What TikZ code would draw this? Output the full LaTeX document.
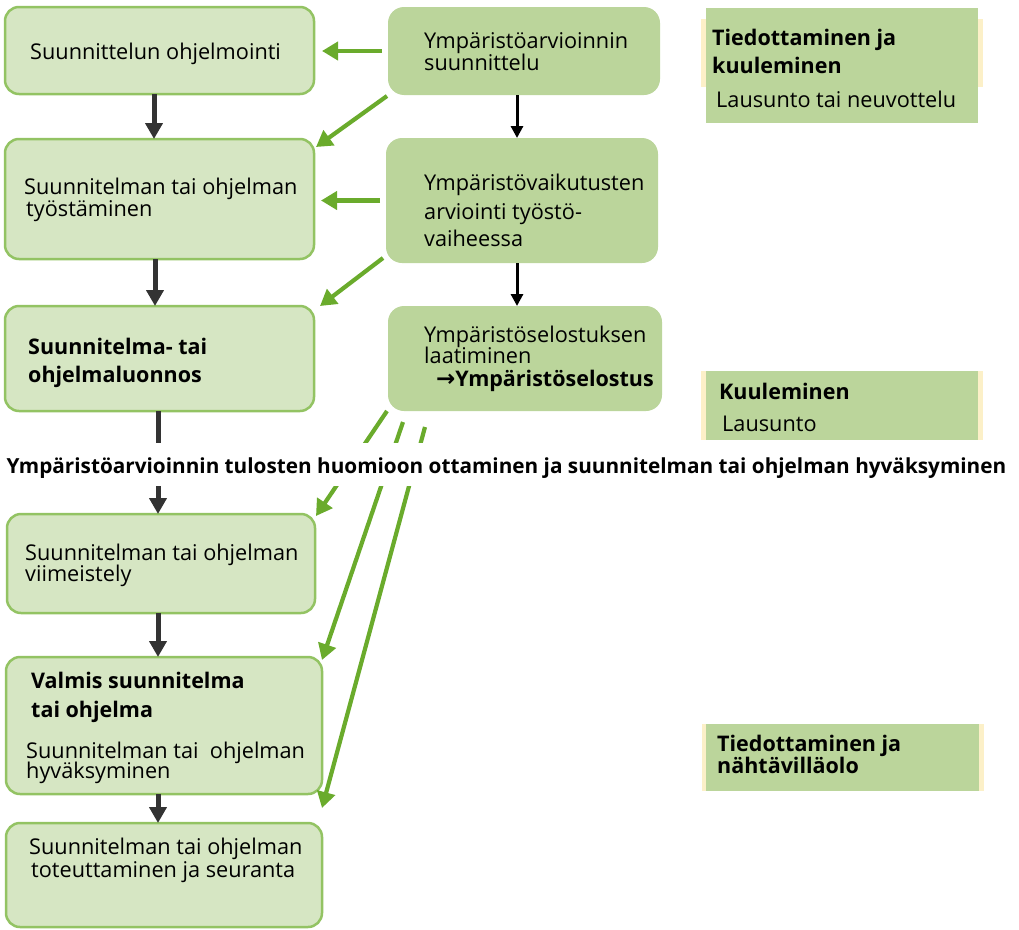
\documentclass[tikz,border=0pt]{standalone}
\usepackage{fontspec}
\setmainfont{Open Sans}
\newfontfamily\arrowfont{DejaVu Sans}
\usetikzlibrary{arrows.meta}
\definecolor{lfill}{HTML}{D6E6C3}
\definecolor{lborder}{HTML}{93C363}
\definecolor{dfill}{HTML}{BBD59B}
\definecolor{garr}{HTML}{6AAB2C}
\definecolor{yel}{HTML}{FCF0C8}
\definecolor{darr}{HTML}{333333}
\begin{document}
\begin{tikzpicture}[x=1pt,y=-1pt,
  lbox/.style={draw=lborder, line width=2.5pt, fill=lfill, rounded corners=14pt, inner sep=0pt, outer sep=0pt},
  dbox/.style={fill=dfill, rounded corners=16pt, inner sep=0pt, outer sep=0pt},
  rbox/.style={fill=dfill, inner sep=0pt, outer sep=0pt},
  ystrip/.style={fill=yel, inner sep=0pt, outer sep=0pt},
  txt/.style={anchor=base west, inner sep=0pt, font=\fontsize{21.7}{22}\selectfont},
  btxt/.style={anchor=base west, inner sep=0pt, font=\fontsize{21.5}{22}\selectfont\bfseries},
  barrow/.style={draw=darr, line width=5pt, -{Triangle[length=16pt,width=17pt]}},
  karrow/.style={draw=black, line width=3pt, -{Triangle[length=12pt,width=12pt]}},
  garrow/.style={draw=garr, line width=4.2pt, -{Triangle[length=16pt,width=18pt]}},
]
\useasboundingbox (0,0) rectangle (1019,929);

% left column boxes
\node[lbox, minimum width=309pt, minimum height=87pt] (b1) at (159.5,50.5) {};
\node[lbox, minimum width=309pt, minimum height=120pt] (b2) at (159.5,199) {};
\node[lbox, minimum width=309pt, minimum height=105pt] (b3) at (159.5,358.5) {};
\node[lbox, minimum width=308pt, minimum height=99pt] (b4) at (161,563.5) {};
\node[lbox, minimum width=316pt, minimum height=137pt] (b5) at (164,725.5) {};
\node[lbox, minimum width=316pt, minimum height=104pt] (b6) at (164,875) {};

% middle column boxes
\node[dbox, minimum width=272pt, minimum height=88pt] (a1) at (524,51) {};
\node[dbox, minimum width=272pt, minimum height=125pt] (a2) at (522,200.5) {};
\node[dbox, minimum width=274pt, minimum height=105pt] (a3) at (525,358.5) {};

% right column boxes
\node[ystrip, minimum width=282pt, minimum height=68pt] (y1) at (842,53) {};
\node[rbox, minimum width=272pt, minimum height=115pt] (r1) at (842,65.5) {};
\node[ystrip, minimum width=282pt, minimum height=69pt] (y2) at (842,405.5) {};
\node[rbox, minimum width=272pt, minimum height=69pt] (r2) at (842,405.5) {};
\node[ystrip, minimum width=282pt, minimum height=67pt] (y3) at (842.5,757.5) {};
\node[rbox, minimum width=273pt, minimum height=67pt] (r3) at (842.5,757.5) {};

% texts
\node[txt] (t1) at (30,59) {Suunnittelun ohjelmointi};
\node[txt] (tA1) at (424,48) {Ympäristöarvioinnin};
\node[txt] (tA2) at (424,70) {suunnittelu};
\node[txt] (t2a) at (24,194) {Suunnitelman tai ohjelman};
\node[txt] (t2b) at (26,216) {työstäminen};
\node[txt] (tB1) at (424,190) {Ympäristövaikutusten};
\node[txt] (tB2) at (424,219) {arviointi työstö-};
\node[txt] (tB3) at (424,246) {vaiheessa};
\node[btxt] (t3a) at (28,354) {Suunnitelma- tai};
\node[btxt] (t3b) at (28,382) {ohjelmaluonnos};
\node[txt] (tC1) at (424,342) {Ympäristöselostuksen};
\node[txt] (tC2) at (424,363) {laatiminen};
\node[btxt] (tC3) at (436,386) {{\arrowfont\fontsize{23}{22}\selectfont →}Ympäristöselostus};
\node[btxt] (r1a) at (712,45) {Tiedottaminen ja};
\node[btxt] (r1b) at (712,73) {kuuleminen};
\node[txt] (r1c) at (716,107) {Lausunto tai neuvottelu};
\node[btxt] (r2a) at (719,399) {Kuuleminen};
\node[txt] (r2b) at (722,431) {Lausunto};
\node[btxt] (r3a) at (717,751) {Tiedottaminen ja};
\node[btxt] (r3b) at (717,773) {nähtävilläolo};
\node[txt] (t4a) at (25,560) {Suunnitelman tai ohjelman};
\node[txt] (t4b) at (25,581) {viimeistely};
\node[btxt] (t5a) at (31,688) {Valmis suunnitelma};
\node[btxt] (t5b) at (31,717) {tai ohjelma};
\node[txt] (t5c) at (26,758) {Suunnitelman tai\ \ ohjelman};
\node[txt] (t5d) at (26,778) {hyväksyminen};
\node[txt] (t6a) at (29,854) {Suunnitelman tai ohjelman};
\node[txt] (t6b) at (31,877) {toteuttaminen ja seuranta};

% dark arrows, left column
\draw[barrow] ([xshift=-5.5pt]b1.south) -- ([xshift=-5.5pt]b1.south |- b2.north);
\draw[barrow] ([xshift=-4.5pt]b2.south) -- ([xshift=-4.5pt]b2.south |- b3.north);
\draw[barrow] ([xshift=-1.5pt]b3.south) -- ([xshift=-1.5pt]b3.south |- b4.north);
\draw[barrow] ([xshift=-3pt]b4.south) -- ([xshift=-3pt]b4.south |- b5.north);
\draw[barrow] ([xshift=-6pt]b5.south) -- ([xshift=-6pt]b5.south |- b6.north);
% black arrows, middle column
\draw[karrow] ([xshift=-7pt]a1.south) -- ([xshift=-7pt]a1.south |- a2.north);
\draw[karrow] ([xshift=-5pt]a2.south) -- ([xshift=-5pt]a2.south |- a3.north);
% green arrows
\draw[garrow] ([xshift=-6pt]a1.west) -- ([xshift=8pt]a1.west -| b1.east);
\draw[garrow] ([xshift=-1pt,yshift=-1pt]a1.south west) -- ([xshift=2pt,yshift=-8pt]b2.north east);
\draw[garrow] ([xshift=-6pt]a2.west) -- ([xshift=7pt]a2.west -| b2.east);
\draw[garrow] ([xshift=-3pt,yshift=5pt]a2.south west) -- ([xshift=6pt]b3.north east);
\draw[garrow] ([xshift=-1pt]a3.south west) -- ([xshift=1pt,yshift=-2pt]b4.north east);
\draw[garrow] ([xshift=15pt,yshift=-11pt]a3.south west) -- ([yshift=-3pt]b5.north east);
\draw[garrow] ([xshift=37pt,yshift=-16pt]a3.south west) -- ([yshift=-14pt]b5.south east);

% middle line of text
\node[font=\fontsize{20.75}{22}\selectfont\bfseries, fill=white, anchor=base, inner xsep=4pt, inner ysep=12pt, text height=18pt, text depth=1pt] (mid) at (506.5,473) {Ympäristöarvioinnin tulosten huomioon ottaminen ja suunnitelman tai ohjelman hyväksyminen};
\end{tikzpicture}
\end{document}
